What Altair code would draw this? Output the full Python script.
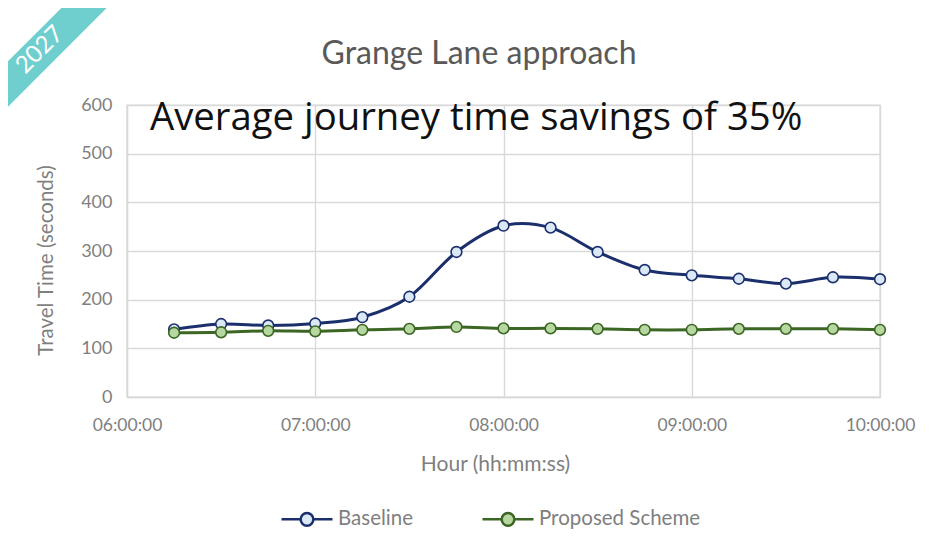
import altair as alt
import pandas as pd

# ---- data ----
times = ["06:15", "06:30", "06:45", "07:00", "07:15", "07:30", "07:45", "08:00",
         "08:15", "08:30", "08:45", "09:00", "09:15", "09:30", "09:45", "10:00"]
baseline = [139, 150, 147, 151, 164, 206, 298, 352, 348, 298, 261, 250, 243, 233, 246, 242]
proposed = [132, 133, 136, 135, 138, 140, 144, 141, 141, 140, 138, 138, 140, 140, 140, 138]
series_names = ["Baseline", "Proposed Scheme"]
y_ticks = [0, 100, 200, 300, 400, 500, 600]
x_tick_hours = [6, 7, 8, 9, 10]

title_text = "Grange Lane approach"
note_text = "Average journey time savings of 35%"
ribbon_text = "2027"

rows = []
for t, b, p in zip(times, baseline, proposed):
    rows.append({"t": "2027-01-01T" + t + ":00", "series": series_names[0], "value": b})
    rows.append({"t": "2027-01-01T" + t + ":00", "series": series_names[1], "value": p})
df = pd.DataFrame(rows)

line_colors = ["#1b2f6c", "#3c6624"]
fill_colors = ["#dbe8f6", "#b7d7a1"]
grey = "#7f7f7f"
grid = "#d9d9d9"

x_enc = alt.X(
    "t:T",
    scale=alt.Scale(domain=[alt.DateTime(year=2027, month=1, date=1, hours=6),
                            alt.DateTime(year=2027, month=1, date=1, hours=10)]),
    axis=alt.Axis(
        values=[alt.DateTime(year=2027, month=1, date=1, hours=h) for h in x_tick_hours],
        format="%H:%M:%S", title="Hour (hh:mm:ss)", grid=True, ticks=False, tickSize=0,
        labelPadding=19, labelFontSize=17.5, labelColor=grey, labelFont="Lato",
        titleFont="Lato", titleFontSize=21, titleColor=grey, titleFontWeight="normal",
        titleX=368, titleY=67, titleBaseline="middle", titleAlign="center",
        gridColor=grid, gridWidth=1.4, domainColor=grid, domainWidth=1.4,
        labelFlush=False, labelOverlap=False,
    ),
)
y_enc = alt.Y(
    "value:Q",
    scale=alt.Scale(domain=[0, 600], nice=False),
    axis=alt.Axis(
        values=y_ticks, title="Travel Time (seconds)", grid=True, ticks=False, tickSize=0,
        labelPadding=15, labelFontSize=18, labelColor=grey, labelFont="Lato",
        titleFont="Lato", titleFontSize=20.5, titleColor=grey, titleFontWeight="normal",
        titleX=-81, titleY=155, titleAngle=270, titleBaseline="middle", titleAlign="center",
        gridColor=grid, gridWidth=1.4, domainColor=grid, domainWidth=1.4,
    ),
)

stroke_scale = alt.Scale(domain=series_names, range=line_colors)
fill_scale = alt.Scale(domain=series_names, range=fill_colors)

legend_path = ("M-1,0L-0.25,0M0.25,0L1,0"
               "M0.25,0A0.25,0.25,0,1,1,-0.25,0A0.25,0.25,0,1,1,0.25,0Z")
legend = alt.Legend(
    title=None, orient="none", direction="horizontal", legendX=153, legendY=387,
    symbolType=legend_path, symbolSize=2600, symbolStrokeWidth=2.5,
    labelFont="Lato", labelFontSize=20.5, labelColor=grey, labelOffset=4,
    labelLimit=400, columnPadding=64, padding=0,
)

base = alt.Chart(df)
lines = base.mark_line(interpolate="cardinal", strokeWidth=3).encode(
    x=x_enc, y=y_enc,
    stroke=alt.Stroke("series:N", scale=stroke_scale, legend=legend),
)
points = base.mark_point(filled=False, size=115, strokeWidth=1.6, opacity=1).encode(
    x=x_enc, y=y_enc,
    stroke=alt.Stroke("series:N", scale=stroke_scale, legend=legend),
    fill=alt.Fill("series:N", scale=fill_scale, legend=legend),
)

# ---- decorations / text ----
one = pd.DataFrame({"k": [0]})
ribbon = alt.Chart(one).mark_rule(color="#6fcfcf", strokeWidth=32, strokeCap="butt").encode(
    x=alt.value(-132), y=alt.value(-8), x2=alt.value(-30), y2=alt.value(-110)
)
ribbon_label = alt.Chart(pd.DataFrame({"txt": [ribbon_text]})).mark_text(
    font="Lato", fontSize=24, color="white", angle=315, align="center", baseline="middle"
).encode(text="txt:N", x=alt.value(-87), y=alt.value(-55))

title = alt.Chart(pd.DataFrame({"txt": [title_text]})).mark_text(
    font="Lato", fontSize=32, color="#595959", align="center", baseline="alphabetic"
).encode(text="txt:N", x=alt.value(352), y=alt.value(-41))

note = alt.Chart(pd.DataFrame({"txt": [note_text]})).mark_text(
    font="Open Sans", fontSize=38.3, color="#111111", align="left", baseline="alphabetic"
).encode(text="txt:N", x=alt.value(23), y=alt.value(25))

chart = alt.layer(lines, points, note, title, ribbon, ribbon_label).properties(
    width=753, height=292,
    autosize=alt.AutoSizeParams(type="none"),
    padding={"left": 119, "top": 97, "right": 50, "bottom": 155},
    background="white",
).configure_view(stroke=grid, strokeWidth=1.4)

chart.save("out.html", embed_options={"renderer": "svg", "actions": False})
